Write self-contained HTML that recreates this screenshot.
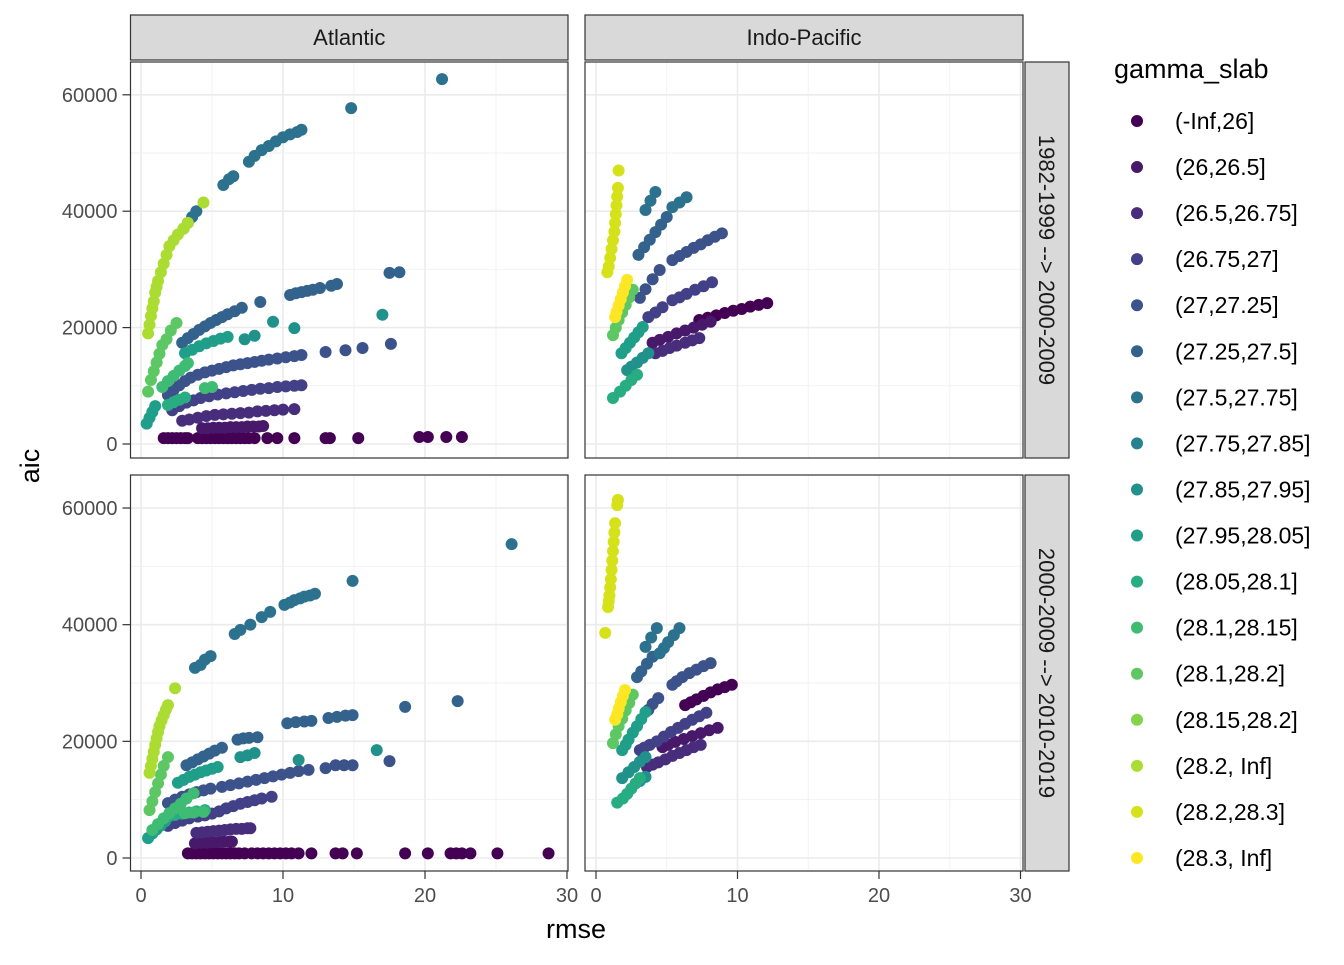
<!DOCTYPE html>
<html><head><meta charset="utf-8">
<style>
html,body{margin:0;padding:0;background:#fff;}
svg text{font-family:"Liberation Sans",sans-serif;}
</style></head>
<body>
<svg id="chart" width="1344" height="960" viewBox="0 0 1344 960" xmlns="http://www.w3.org/2000/svg">
</svg>
<script>
const levels = ["(-Inf,26]","(26,26.5]","(26.5,26.75]","(26.75,27]","(27,27.25]","(27.25,27.5]","(27.5,27.75]","(27.75,27.85]","(27.85,27.95]","(27.95,28.05]","(28.05,28.1]","(28.1,28.15]","(28.1,28.2]","(28.15,28.2]","(28.2, Inf]","(28.2,28.3]","(28.3, Inf]"];
const colors = ["#440154","#48186A","#472D7B","#424086","#3B528B","#33638D","#2C728E","#26828E","#21918C","#1F9E89","#27AD81","#3FBC73","#5DC863","#84D44B","#AADC32","#D5E21A","#FDE725"];
const xTicks = [0,10,20,30];
const yTicks = [0,20000,40000,60000];
const facetCols = ["Atlantic","Indo-Pacific"];
const facetRows = ["1982-1999 --> 2000-2009","2000-2009 --> 2010-2019"];
// series: panel (AT=Atlantic top, IT=Indo top, AB=Atlantic bottom, IB=Indo bottom), level index, rmse values, aic values (thousands)
const series = [
 {p:"AT",l:0,rmse:[1.6,1.9,2.2,2.5,2.8,3.1,3.3,4.0,4.3,4.6,4.9,5.2,5.5,5.8,6.1,6.4,6.7,7.0,7.3,7.6,8.0,8.9,9.6,10.8,13.0,13.3,15.3,19.6,20.2,21.5,22.6],aic:[1,1,1,1,1,1,1,1,1,1,1,1,1,1,1,1,1,1,1,1,1,1,1,1,1,1,1,1.2,1.2,1.2,1.2]},
 {p:"AT",l:1,rmse:[4.3,4.7,5.1,5.5,5.9,6.3,6.7,7.1,7.5,7.9,8.3,8.6],aic:[2.7,2.7,2.8,2.8,2.8,2.9,2.9,2.9,3.0,3.0,3.0,3.1]},
 {p:"AT",l:2,rmse:[2.9,3.4,4.0,4.6,5.2,5.8,6.4,7.0,7.6,8.2,8.8,9.4,10.0,10.8],aic:[4.0,4.2,4.5,4.8,5.0,5.1,5.2,5.3,5.4,5.6,5.7,5.8,5.9,6.0]},
 {p:"AT",l:3,rmse:[2.2,2.7,3.2,3.7,4.2,4.8,5.4,6.0,6.6,7.2,7.8,8.4,9.0,9.6,10.2,10.8,11.3],aic:[5.8,6.5,7.1,7.5,7.9,8.2,8.5,8.7,8.9,9.1,9.3,9.5,9.6,9.8,9.9,10.0,10.1]},
 {p:"AT",l:4,rmse:[1.9,2.3,2.7,3.1,3.5,4.0,4.5,5.0,5.5,6.0,6.5,7.0,7.5,8.0,8.5,9.0,9.6,10.2,10.8,11.3,13.0,14.4,15.6,17.6],aic:[8.4,9.3,10.1,10.8,11.4,11.9,12.3,12.6,12.9,13.2,13.5,13.7,13.9,14.1,14.3,14.5,14.7,14.9,15.1,15.3,15.8,16.1,16.5,17.2]},
 {p:"AT",l:5,rmse:[2.9,3.3,3.7,4.1,4.5,4.9,5.3,5.7,6.1,6.6,7.1,8.4,10.5,10.9,11.3,11.7,12.1,12.6,13.4,13.8,17.5,18.2],aic:[17.4,18.2,18.9,19.6,20.2,20.8,21.3,21.8,22.3,22.8,23.4,24.4,25.6,25.9,26.1,26.3,26.5,26.8,27.2,27.5,29.4,29.5]},
 {p:"AT",l:6,rmse:[3.0,3.3,3.6,3.9,5.8,6.2,6.5,7.6,8.0,8.5,9.0,9.5,10.0,10.5,11.0,11.3,14.8,21.2],aic:[37,38,39,40,44.5,45.5,46,48.5,49.5,50.5,51.2,52,52.7,53.2,53.6,54,57.7,62.7]},
 {p:"AT",l:8,rmse:[7.3,8.0,9.3,10.8,17.0],aic:[18.0,18.6,21.0,19.9,22.2]},
 {p:"AT",l:9,rmse:[3.1,3.6,4.1,4.6,5.1,5.6,6.1,0.4,0.6,0.8,1.0],aic:[15.6,16.2,16.8,17.3,17.7,18.1,18.4,3.5,4.5,5.5,6.5]},
 {p:"AT",l:10,rmse:[1.9,2.3,2.7,3.1],aic:[6.7,7.2,7.6,8.0]},
 {p:"AT",l:11,rmse:[1.5,1.9,2.3,2.7,3.1,3.3,4.5,5.0],aic:[9.8,10.8,11.7,12.6,13.4,13.9,9.6,9.8]},
 {p:"AT",l:12,rmse:[0.5,0.7,0.9,1.1,1.3,1.5,1.8,2.1,2.5],aic:[9,11,12.5,14,15.5,17,18,19.5,20.8]},
 {p:"AT",l:14,rmse:[0.5,0.6,0.7,0.8,0.9,1.0,1.1,1.2,1.4,1.6,1.8,2.0,2.3,2.6,3.0,3.3,4.4],aic:[19,20.5,22,23.3,24.5,26,27,28,29.5,31,32.5,34,35,36,37,38,41.5]},

 {p:"IT",l:0,rmse:[12.1,11.5,10.9,10.3,9.7,9.1,8.5,7.9,7.3],aic:[24.2,23.9,23.6,23.2,22.9,22.5,22.1,21.7,21.3]},
 {p:"IT",l:1,rmse:[8.1,7.5,6.9,6.3,5.7,5.1,4.5,4.0],aic:[21,20.5,20.0,19.5,19.0,18.4,17.9,17.4]},
 {p:"IT",l:2,rmse:[7.3,6.8,6.3,5.7,5.2,4.7,4.2],aic:[18.2,17.8,17.4,16.9,16.5,16.0,15.6]},
 {p:"IT",l:3,rmse:[8.2,7.6,7.0,6.4,5.9,5.4,4.7,4.2,3.7],aic:[27.8,27.1,26.5,25.8,25.2,24.7,23.5,22.6,21.8]},
 {p:"IT",l:4,rmse:[8.9,8.4,7.9,7.4,6.9,6.4,5.9,5.4,4.5,4.0,3.5,3.1],aic:[36.2,35.6,35.0,34.3,33.7,33.0,32.3,31.6,29.9,28.3,26.6,25.1]},
 {p:"IT",l:5,rmse:[5.0,4.6,4.2,3.8,3.4,3.0],aic:[39,37.7,36.4,35.1,33.8,32.5]},
 {p:"IT",l:6,rmse:[4.2,3.85,3.5,6.4,5.9,5.4],aic:[43.3,41.8,40.2,42.4,41.5,40.7]},
 {p:"IT",l:8,rmse:[3.7,3.3,2.9,2.5,2.2],aic:[15.6,14.8,14.0,13.3,12.7]},
 {p:"IT",l:9,rmse:[3.3,3.0,2.7,2.4,2.1,1.8],aic:[20.1,19.2,18.3,17.4,16.5,15.6]},
 {p:"IT",l:10,rmse:[2.9,2.5,2.1,1.7,1.2],aic:[11.9,11.0,10.0,9.0,7.9]},
 {p:"IT",l:12,rmse:[2.6,2.35,2.1,1.85,1.6,1.4,1.2],aic:[26.5,25.2,23.9,22.6,21.3,20.0,18.7]},
 {p:"IT",l:15,rmse:[1.6,1.55,1.5,1.45,1.4,1.35,1.3,1.2,1.1,1.0,0.9,0.8],aic:[47,44,42.5,41,39.5,38,36.5,35,33.5,32,30.5,29.5]},
 {p:"IT",l:16,rmse:[2.2,2.05,1.9,1.75,1.6,1.45,1.35],aic:[28.2,27.1,26.0,24.9,23.8,22.7,21.8]},

 {p:"AB",l:0,rmse:[3.3,3.6,3.9,4.2,4.5,4.8,5.1,5.4,5.7,6.0,6.3,6.6,6.9,7.3,7.8,8.2,8.6,9.0,9.4,9.8,10.2,10.6,11.1,12.0,13.7,14.2,15.2,18.6,20.2,21.8,22.2,22.6,23.2,25.1,28.7],aic:[0.8,0.8,0.8,0.8,0.8,0.8,0.8,0.8,0.8,0.8,0.8,0.8,0.8,0.8,0.8,0.8,0.8,0.8,0.8,0.8,0.8,0.8,0.8,0.8,0.8,0.8,0.8,0.8,0.8,0.8,0.8,0.8,0.8,0.8,0.8]},
 {p:"AB",l:1,rmse:[3.8,4.2,4.6,5.0,5.4,5.8,6.2,6.4],aic:[2.5,2.6,2.6,2.7,2.7,2.8,2.8,2.8]},
 {p:"AB",l:2,rmse:[3.9,4.3,4.7,5.1,5.5,5.9,6.3,6.7,7.1,7.5,7.7],aic:[4.3,4.4,4.5,4.6,4.7,4.8,4.9,5.0,5.0,5.1,5.1]},
 {p:"AB",l:3,rmse:[1.9,2.4,2.9,3.4,4.0,4.5,5.0,5.5,6.0,6.5,7.0,7.5,8.0,8.5,9.2],aic:[5.5,6.0,6.4,6.8,7.1,7.3,7.6,8.0,8.5,8.9,9.3,9.6,9.9,10.2,10.5]},
 {p:"AB",l:4,rmse:[1.9,2.4,2.9,3.4,3.9,4.4,4.9,5.7,6.3,6.9,7.5,8.1,8.7,9.3,9.9,10.5,11.1,11.8,13.0,13.7,14.3,14.9,17.5],aic:[9.4,10.0,10.5,10.9,11.3,11.6,11.9,12.2,12.5,12.8,13.1,13.4,13.7,14.0,14.3,14.6,14.9,15.1,15.4,15.9,15.9,15.9,16.6]},
 {p:"AB",l:5,rmse:[3.2,3.6,4.0,4.4,4.8,5.2,5.7,6.8,7.2,7.6,8.2,10.3,10.9,11.5,12.0,13.2,13.8,14.4,14.9,18.6,22.3],aic:[15.9,16.4,16.9,17.4,17.9,18.4,18.9,20.3,20.5,20.6,20.7,23.1,23.3,23.4,23.5,24.0,24.2,24.4,24.5,25.9,26.9]},
 {p:"AB",l:6,rmse:[3.8,4.2,4.5,4.9,6.6,7.0,7.7,8.5,9.1,10.1,10.5,10.8,11.2,11.5,11.9,12.25,14.9,26.1],aic:[32.6,33.1,34.0,34.6,38.4,39.1,40.0,41.3,42.2,43.4,43.8,44.2,44.5,44.8,45.0,45.3,47.5,53.8]},
 {p:"AB",l:8,rmse:[7.0,7.5,8.0,11.1,16.6],aic:[17.3,17.6,18.0,16.8,18.5]},
 {p:"AB",l:9,rmse:[2.6,3.0,3.4,3.8,4.2,4.6,5.0,5.4,0.5,0.8,1.1,1.4,1.7,1.9],aic:[12.9,13.4,13.9,14.3,14.7,15.0,15.3,15.6,3.4,4.2,4.9,5.6,6.3,7.0]},
 {p:"AB",l:10,rmse:[1.9,2.4,2.9,3.4,3.9,4.5],aic:[7.2,7.4,7.6,7.8,8.0,8.2]},
 {p:"AB",l:11,rmse:[0.8,1.2,1.6,2.0,2.4,2.8,3.2,3.7,3.1,3.7,4.4],aic:[4.8,5.8,6.8,7.7,8.5,9.3,10.2,11.1,7.7,7.8,7.9]},
 {p:"AB",l:12,rmse:[0.6,0.8,1.0,1.2,1.4,1.6,1.9],aic:[8.2,9.7,11.3,12.8,14.3,15.8,17.3]},
 {p:"AB",l:14,rmse:[0.6,0.7,0.8,0.9,1.0,1.1,1.2,1.3,1.45,1.6,1.75,1.9,2.4],aic:[14.6,15.8,17,18.2,19.4,20.5,21.6,22.6,23.6,24.5,25.4,26.2,29.1]},

 {p:"IB",l:0,rmse:[9.6,9.1,8.6,8.1,7.6,7.1,6.7,6.3],aic:[29.7,29.3,28.9,28.4,27.8,27.2,26.7,26.2]},
 {p:"IB",l:1,rmse:[8.6,8.0,7.4,6.8,6.2,5.6,5.1,4.7],aic:[22.3,21.9,21.4,20.9,20.4,19.9,19.4,19.0]},
 {p:"IB",l:2,rmse:[7.4,6.9,6.4,5.9,5.4,4.9,4.4,4.0,3.6],aic:[19.4,19.0,18.5,18.0,17.5,16.9,16.4,16.0,15.6]},
 {p:"IB",l:3,rmse:[7.8,7.3,6.8,6.3,5.8,5.3,4.8,4.3,3.8,3.4,3.1],aic:[24.9,24.3,23.7,23.0,22.3,21.6,20.8,20.0,19.4,18.9,18.5]},
 {p:"IB",l:4,rmse:[8.1,7.6,7.1,6.6,6.1,5.7,5.4,4.4,4.0,3.7],aic:[33.4,32.9,32.3,31.7,31.0,30.3,29.7,27.4,26.4,25.4]},
 {p:"IB",l:5,rmse:[4.0,3.6,3.2,2.9],aic:[34.5,33.3,32.0,31.0]},
 {p:"IB",l:6,rmse:[4.3,3.9,3.5,5.9,5.5,5.1,4.8,4.5],aic:[39.4,37.8,36.2,39.4,38.2,37.0,36.0,35.1]},
 {p:"IB",l:8,rmse:[3.5,3.1,2.7,2.3,1.85,3.5,3.1],aic:[17.3,16.5,15.6,14.7,13.7,13.9,13.2]},
 {p:"IB",l:9,rmse:[3.5,3.2,2.9,2.6,2.3,2.1,1.85],aic:[25,23.8,22.6,21.5,20.3,19.4,18.5]},
 {p:"IB",l:10,rmse:[3.1,2.8,2.5,2.2,1.9,1.5],aic:[13.7,12.8,11.9,11.0,10.2,9.5]},
 {p:"IB",l:12,rmse:[2.6,2.35,2.1,1.85,1.6,1.4,1.2],aic:[28,26.6,25.3,23.9,22.6,21.2,19.7]},
 {p:"IB",l:15,rmse:[1.55,1.5,1.35,1.3,1.25,1.2,1.15,1.1,1.05,1.0,0.95,0.9,0.85,0.65],aic:[61.4,60.5,57.4,55.8,54.2,52.6,51.0,49.4,47.8,46.4,45.0,44.0,43.0,38.6]},
 {p:"IB",l:16,rmse:[2.05,1.9,1.75,1.6,1.5,1.35],aic:[28.8,27.8,26.7,25.6,24.6,23.7]}
];

const NS = "http://www.w3.org/2000/svg";
const svg = document.getElementById("chart");
function mk(tag, attrs, parent){
  const e = document.createElementNS(NS, tag);
  for (const k in attrs) e.setAttribute(k, attrs[k]);
  (parent||svg).appendChild(e);
  return e;
}
const panels = {
  AT:{x0:130.5,x1:568,y0:62,y1:458,ox:141,sx:14.2,oy:444,sy:5.82},
  IT:{x0:585,x1:1023,y0:62,y1:458,ox:596,sx:14.15,oy:444,sy:5.82},
  AB:{x0:130.5,x1:568,y0:475,y1:871,ox:141,sx:14.2,oy:858,sy:5.833},
  IB:{x0:585,x1:1023,y0:475,y1:871,ox:596,sx:14.15,oy:858,sy:5.833}
};
function xs(P,v){return P.ox+v*P.sx;}
function ys(P,v){return P.oy-(v/1000)*P.sy;}

for (const key of ["AT","IT","AB","IB"]) {
  const P = panels[key];
  const g = mk("g",{});
  
  
  mk("rect",{x:P.x0,y:P.y0,width:P.x1-P.x0,height:P.y1-P.y0,fill:"#fff"},g);
  for (let v=5; v<=25; v+=10) mk("line",{x1:xs(P,v),x2:xs(P,v),y1:P.y0,y2:P.y1,stroke:"#F2F2F2","stroke-width":1},g);
  for (let v=10000; v<=50000; v+=20000) mk("line",{x1:P.x0,x2:P.x1,y1:ys(P,v),y2:ys(P,v),stroke:"#F2F2F2","stroke-width":1},g);
  for (const v of xTicks) mk("line",{x1:xs(P,v),x2:xs(P,v),y1:P.y0,y2:P.y1,stroke:"#EBEBEB","stroke-width":1.6},g);
  for (const v of yTicks) mk("line",{x1:P.x0,x2:P.x1,y1:ys(P,v),y2:ys(P,v),stroke:"#EBEBEB","stroke-width":1.6},g);
}
for (const s of series) {
  const P = panels[s.p];
  const g = mk("g",{fill:colors[s.l]});
  
  
  for (let i=0;i<s.rmse.length;i++){
    const c = mk("circle",{cx:xs(P,s.rmse[i]),cy:ys(P,s.aic[i]*1000),r:6},g);
    
    
  }
}
for (const key of ["AT","IT","AB","IB"]) {
  const P = panels[key];
  const b = mk("rect",{x:P.x0,y:P.y0,width:P.x1-P.x0,height:P.y1-P.y0,fill:"none",stroke:"#333","stroke-width":1.2});
  
  
  if (key==="AT"||key==="AB") {
    for (const v of yTicks) {
      mk("line",{x1:P.x0-8,x2:P.x0,y1:ys(P,v),y2:ys(P,v),stroke:"#333","stroke-width":1.2});
      const t = mk("text",{x:P.x0-13,y:ys(P,v)+7,"text-anchor":"end","font-size":20,fill:"#4D4D4D"});
      t.textContent = v;
      
      
    }
  }
  if (key==="AB"||key==="IB") {
    for (const v of xTicks) {
      mk("line",{x1:xs(P,v),x2:xs(P,v),y1:P.y1,y2:P.y1+8,stroke:"#333","stroke-width":1.2});
      const t = mk("text",{x:xs(P,v),y:P.y1+31,"text-anchor":"middle","font-size":20,fill:"#4D4D4D"});
      t.textContent = v;
      
      
    }
  }
}
[[130.5,568],[585,1023]].forEach((r,i)=>{
  const s = mk("rect",{x:r[0],y:15,width:r[1]-r[0],height:45,fill:"#D9D9D9",stroke:"#333","stroke-width":1.2});
  
  
  const t = mk("text",{x:(r[0]+r[1])/2,y:45,"text-anchor":"middle","font-size":22,fill:"#1A1A1A"});
  t.textContent = facetCols[i];
  
  
});
[[62,458],[475,871]].forEach((r,i)=>{
  const s = mk("rect",{x:1025,y:r[0],width:44,height:r[1]-r[0],fill:"#D9D9D9",stroke:"#333","stroke-width":1.2});
  
  
  const cy=(r[0]+r[1])/2;
  const t = mk("text",{x:1039,y:cy,"text-anchor":"middle","font-size":22,fill:"#1A1A1A",transform:`rotate(90 1039 ${cy})`});
  t.textContent = facetRows[i];
  
  
});
let t = mk("text",{x:576,y:938,"text-anchor":"middle","font-size":27,fill:"#000"});
t.textContent="rmse";


t = mk("text",{x:39,y:466,"text-anchor":"middle","font-size":27,fill:"#000",transform:"rotate(-90 39 466)"});
t.textContent="aic";


t = mk("text",{x:1114,y:78,"font-size":27,fill:"#000"});
t.textContent="gamma_slab";


levels.forEach((lab,i)=>{
  const y = 121 + i*46.06;
  const g = mk("g",{});
  
  
  mk("circle",{cx:1137,cy:y,r:6,fill:colors[i]},g);
  const tt = mk("text",{x:1175,y:y+8,"font-size":23,fill:"#000"},g);
  tt.textContent = lab;
});
</script>
</body></html>
